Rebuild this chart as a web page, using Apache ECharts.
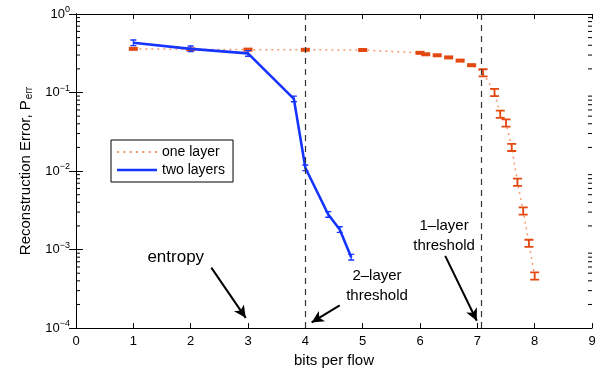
<!DOCTYPE html>
<html>
<head>
<meta charset="utf-8">
<script src="https://cdn.jsdelivr.net/npm/echarts@6.0.0/dist/echarts.min.js"></script>
<style>
  html, body { margin: 0; padding: 0; background: #fff; }
  #main { width: 603px; height: 373px; }
</style>
</head>
<body>
<div id="main"></div>
<script>
// one layer (orange, dotted)
var oneX = [1, 2, 3, 4, 5, 6, 6.1, 6.3, 6.5, 6.7, 6.9, 7.1, 7.3, 7.4, 7.5, 7.6, 7.7, 7.8, 7.9, 8.0];
var oneY = [0.36, 0.355, 0.352, 0.35, 0.348, 0.32, 0.307, 0.298, 0.28, 0.255, 0.223, 0.178, 0.10, 0.053, 0.041, 0.020, 0.0072, 0.0031, 0.0012, 0.00046];
// two layers (blue, solid)
var twoX = [1, 2, 3, 3.8, 4, 4.4, 4.6, 4.8];
var twoY = [0.43, 0.36, 0.315, 0.083, 0.011, 0.0028, 0.0018, 0.0008];
// vertical dashed thresholds
var thresholds = [4, 7.07];
var xTicks = [0, 9, 1];
var yRange = [1e-4, 1];

var FONT = '"Liberation Sans", Arial, Helvetica, sans-serif';
var IBEAM = 'path://M0,0H10V2H6V8H10V10H0V8H4V2H0Z';
var DOTS = 'path://M0,0H2V2H0Z M6,0H8V2H6Z M12,0H14V2H12Z M18,0H20V2H18Z M24,0H26V2H24Z M30,0H32V2H30Z M36,0H38V2H36Z';
var SOLID = 'path://M0,0H40V2.6H0Z';

function pairs(xs, ys) {
  return xs.map(function (x, i) { return [x, ys[i]]; });
}

// minor log ticks 2..9 x 10^n
var minorVals = [];
for (var e = -4; e < 0; e++) {
  for (var k = 2; k <= 9; k++) minorVals.push([0, k * Math.pow(10, e)]);
}

function expLabel(v) {
  var ex = Math.round(Math.log10(v));
  return '{b|10}{e|' + (ex < 0 ? '\u2212' + (-ex) : ex) + '}';
}

function note(x, y, text, size) {
  return {
    coord: [x, y], value: 0,
    symbol: 'rect', symbolSize: 1,
    itemStyle: { color: 'rgba(0,0,0,0)' },
    label: {
      show: true, position: 'inside', formatter: text,
      fontSize: size, lineHeight: size + 5, color: '#000', fontFamily: FONT
    }
  };
}

var chart = echarts.init(document.getElementById('main'));

chart.setOption({
  animation: false,
  textStyle: { fontFamily: FONT },
  grid: { left: 76, right: 11, top: 14, bottom: 42 },
  legend: {
    left: 111, top: 140,
    orient: 'vertical',
    backgroundColor: '#fff',
    borderColor: '#000', borderWidth: 1,
    padding: [5, 8, 5, 6],
    itemGap: 4,
    itemWidth: 40, itemHeight: 14,
    textStyle: { fontSize: 14, color: '#000', fontFamily: FONT },
    data: [
      { name: 'one layer', icon: DOTS, itemStyle: { color: '#f59a70' } },
      { name: 'two layers', icon: SOLID, itemStyle: { color: '#1535ff' } }
    ]
  },
  xAxis: [{
    type: 'value', min: xTicks[0], max: xTicks[1], interval: xTicks[2],
    position: 'bottom',
    axisLine: { lineStyle: { color: '#000', width: 1 } },
    axisTick: { inside: true, length: 5, lineStyle: { color: '#000' } },
    axisLabel: { color: '#000', fontSize: 13, margin: 7 },
    splitLine: { show: false },
    name: 'bits per flow', nameLocation: 'middle', nameGap: 20,
    nameTextStyle: { fontSize: 15, color: '#000' }
  }, {
    type: 'value', min: xTicks[0], max: xTicks[1], interval: xTicks[2],
    position: 'top',
    axisLine: { lineStyle: { color: '#000', width: 1 } },
    axisTick: { inside: true, length: 5, lineStyle: { color: '#000' } },
    axisLabel: { show: false },
    splitLine: { show: false }
  }],
  yAxis: [{
    type: 'log', logBase: 10, min: yRange[0], max: yRange[1],
    position: 'left',
    axisLine: { lineStyle: { color: '#000', width: 1 } },
    axisTick: { inside: true, length: 7, lineStyle: { color: '#000' } },
    axisLabel: {
      color: '#000', margin: 6,
      formatter: expLabel,
      rich: {
        b: { fontSize: 13, color: '#000', fontFamily: FONT },
        e: { fontSize: 9, color: '#000', fontFamily: FONT, padding: [0, 0, 9, 0] }
      }
    },
    splitLine: { show: false },
    name: '{n|Reconstruction Error, P}{s|err}',
    nameLocation: 'middle', nameGap: 40,
    nameTextStyle: {
      color: '#000',
      rich: {
        n: { fontSize: 15, color: '#000', fontFamily: FONT },
        s: { fontSize: 10, color: '#000', fontFamily: FONT, padding: [8, 0, 0, 1] }
      }
    }
  }, {
    type: 'log', logBase: 10, min: yRange[0], max: yRange[1],
    position: 'right',
    axisLine: { lineStyle: { color: '#000', width: 1 } },
    axisTick: { inside: true, length: 7, lineStyle: { color: '#000' } },
    axisLabel: { show: false },
    splitLine: { show: false }
  }],
  series: [
    {
      name: 'minor',
      type: 'custom',
      xAxisIndex: 0, yAxisIndex: 0,
      silent: true,
      data: minorVals,
      renderItem: function (params, api) {
        var y = api.coord([0, api.value(1)])[1];
        var cs = params.coordSys;
        var st = { stroke: '#000', lineWidth: 1 };
        return {
          type: 'group',
          children: [
            { type: 'line', shape: { x1: cs.x, y1: y, x2: cs.x + 4, y2: y }, style: st },
            { type: 'line', shape: { x1: cs.x + cs.width - 4, y1: y, x2: cs.x + cs.width, y2: y }, style: st }
          ]
        };
      }
    },
    {
      name: 'one layer',
      type: 'line',
      data: pairs(oneX, oneY),
      lineStyle: { color: '#f59a70', width: 1.5, type: [2, 4] },
      itemStyle: { color: '#e2480f' },
      symbol: function (v) { return v[0] < 7 ? 'rect' : IBEAM; },
      symbolSize: function (v) { return v[0] < 7 ? [9, 4] : [9, 9]; },
      z: 2,
      markLine: {
        silent: true,
        symbol: 'none',
        label: { show: false },
        lineStyle: { color: '#333', width: 1.2, type: [6, 5] },
        data: thresholds.map(function (t) { return { xAxis: t }; })
      }
    },
    {
      name: 'two layers',
      type: 'line',
      data: pairs(twoX, twoY),
      lineStyle: { color: '#1535ff', width: 2.6 },
      itemStyle: { color: '#1535ff' },
      symbol: IBEAM,
      symbolSize: [6, 7],
      z: 3,
      markLine: {
        silent: true,
        label: { show: false },
        symbolSize: [9, 12],
        lineStyle: { color: '#000', width: 2, type: 'solid' },
        data: [
          [{ coord: [2.36, 5.9e-4], symbol: 'none' }, { coord: [2.96, 1.35e-4], symbol: 'arrow' }],
          [{ coord: [4.6, 1.95e-4], symbol: 'none' }, { coord: [4.11, 1.18e-4], symbol: 'arrow' }],
          [{ coord: [6.44, 8.3e-4], symbol: 'none' }, { coord: [6.99, 1.24e-4], symbol: 'arrow' }]
        ]
      },
      markPoint: {
        silent: true,
        data: [
          note(1.74, 7.9e-4, 'entropy', 17),
          note(5.25, 3.5e-4, '2\u2013layer\nthreshold', 15),
          note(6.42, 1.5e-3, '1\u2013layer\nthreshold', 15)
        ]
      }
    }
  ]
});
</script>
</body>
</html>
